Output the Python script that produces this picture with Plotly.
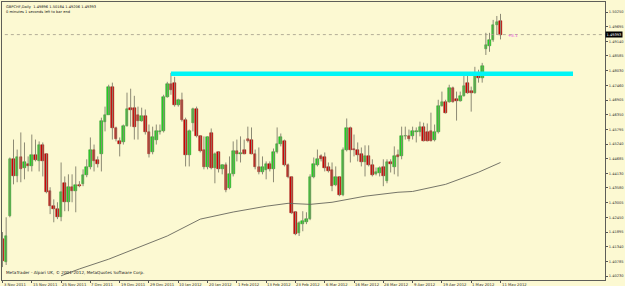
import plotly.graph_objects as go

# ---------------- data ----------------
opens = [1.4163,1.4076,1.4250,1.4469,1.4401,1.4473,1.4432,1.4447,1.4439,1.4481,
         1.4458,1.4519,1.4485,1.4345,1.4288,1.4277,1.4246,1.4375,1.4303,1.4360,
         1.4345,1.4369,1.4371,1.4405,1.4435,1.4503,1.4462,1.4488,1.4609,1.4636,
         1.4742,1.4583,1.4534,1.4530,1.4594,1.4662,1.4662,1.4636,1.4613,1.4632,
         1.4568,1.4492,1.4541,1.4568,1.4572,1.4704,1.4753,1.4757,1.4674,1.4692,
         1.4617,1.4481,1.4602,1.4658,1.4553,1.4500,1.4435,1.4564,1.4432,1.4492,
         1.4428,1.4443,1.4356,1.4409,1.4496,1.4485,1.4500,1.4545,1.4541,1.4488,
         1.4435,1.4416,1.4424,1.4447,1.4428,1.4492,1.4526,1.4534,1.4443,1.4398,
         1.4265,1.4186,1.4220,1.4227,1.4239,1.4398,1.4443,1.4477,1.4473,1.4435,
         1.4424,1.4367,1.4398,1.4330,1.4503,1.4583,1.4507,1.4503,1.4485,1.4454,
         1.4477,1.4443,1.4409,1.4413,1.4435,1.4383,1.4454,1.4435,1.4481,1.4477,
         1.4553,1.4553,1.4553,1.4568,1.4568,1.4590,1.4568,1.4575,1.4541,1.4568,
         1.4670,1.4685,1.4685,1.4738,1.4696,1.4689,1.4707,1.4757,1.4726,1.4719,
         1.4787,1.4776,1.4885,1.4897,1.4919,1.4976,1.4990]
highs = [1.4190,1.4246,1.4473,1.4541,1.4503,1.4568,1.4530,1.4477,1.4560,1.4541,
         1.4534,1.4530,1.4488,1.4360,1.4314,1.4303,1.4454,1.4401,1.4409,1.4409,
         1.4439,1.4383,1.4428,1.4466,1.4549,1.4522,1.4477,1.4624,1.4666,1.4749,
         1.4757,1.4590,1.4549,1.4598,1.4719,1.4734,1.4707,1.4666,1.4662,1.4655,
         1.4598,1.4590,1.4598,1.4598,1.4711,1.4760,1.4794,1.4779,1.4696,1.4719,
         1.4624,1.4579,1.4662,1.4666,1.4556,1.4553,1.4553,1.4583,1.4492,1.4496,
         1.4447,1.4454,1.4477,1.4534,1.4541,1.4553,1.4541,1.4590,1.4587,1.4503,
         1.4511,1.4477,1.4458,1.4458,1.4507,1.4587,1.4564,1.4541,1.4450,1.4401,
         1.4269,1.4231,1.4269,1.4265,1.4409,1.4473,1.4503,1.4485,1.4492,1.4454,
         1.4454,1.4439,1.4401,1.4511,1.4621,1.4590,1.4560,1.4530,1.4511,1.4519,
         1.4519,1.4466,1.4435,1.4439,1.4466,1.4466,1.4466,1.4515,1.4503,1.4590,
         1.4590,1.4579,1.4590,1.4587,1.4609,1.4605,1.4602,1.4643,1.4598,1.4692,
         1.4723,1.4692,1.4749,1.4742,1.4723,1.4723,1.4783,1.4791,1.4742,1.4817,
         1.4806,1.4832,1.4946,1.4946,1.4995,1.5010,1.5018]
lows = [1.4057,1.4065,1.4246,1.4371,1.4379,1.4379,1.4390,1.4420,1.4420,1.4458,
        1.4420,1.4401,1.4337,1.4258,1.4227,1.4239,1.4231,1.4269,1.4269,1.4303,
        1.4265,1.4360,1.4364,1.4398,1.4428,1.4420,1.4435,1.4420,1.4572,1.4636,
        1.4541,1.4534,1.4477,1.4522,1.4590,1.4590,1.4541,1.4541,1.4609,1.4560,
        1.4473,1.4485,1.4522,1.4560,1.4568,1.4700,1.4711,1.4666,1.4666,1.4609,
        1.4439,1.4439,1.4572,1.4549,1.4492,1.4428,1.4428,1.4428,1.4375,1.4416,
        1.4409,1.4341,1.4352,1.4401,1.4458,1.4454,1.4485,1.4530,1.4485,1.4428,
        1.4409,1.4409,1.4390,1.4420,1.4379,1.4488,1.4515,1.4439,1.4394,1.4258,
        1.4178,1.4175,1.4193,1.4220,1.4235,1.4394,1.4439,1.4458,1.4420,1.4416,
        1.4345,1.4364,1.4326,1.4326,1.4496,1.4454,1.4477,1.4458,1.4439,1.4401,
        1.4439,1.4401,1.4405,1.4401,1.4364,1.4375,1.4416,1.4409,1.4401,1.4466,
        1.4541,1.4534,1.4541,1.4530,1.4553,1.4534,1.4534,1.4534,1.4534,1.4564,
        1.4666,1.4640,1.4681,1.4681,1.4613,1.4685,1.4704,1.4715,1.4647,1.4715,
        1.4757,1.4757,1.4862,1.4874,1.4912,1.4938,1.4921]
closes = [1.4080,1.4175,1.4469,1.4401,1.4473,1.4428,1.4454,1.4439,1.4481,1.4462,
          1.4519,1.4458,1.4341,1.4288,1.4277,1.4246,1.4341,1.4303,1.4360,1.4345,
          1.4367,1.4364,1.4405,1.4435,1.4503,1.4458,1.4450,1.4613,1.4636,1.4742,
          1.4583,1.4545,1.4526,1.4594,1.4658,1.4655,1.4587,1.4613,1.4632,1.4568,
          1.4488,1.4549,1.4572,1.4575,1.4704,1.4753,1.4730,1.4674,1.4692,1.4617,
          1.4481,1.4575,1.4658,1.4553,1.4496,1.4435,1.4549,1.4432,1.4488,1.4428,
          1.4443,1.4348,1.4409,1.4496,1.4485,1.4489,1.4488,1.4537,1.4488,1.4435,
          1.4416,1.4435,1.4447,1.4428,1.4492,1.4526,1.4549,1.4443,1.4398,1.4261,
          1.4182,1.4224,1.4231,1.4239,1.4398,1.4447,1.4469,1.4469,1.4432,1.4420,
          1.4364,1.4398,1.4330,1.4503,1.4583,1.4500,1.4500,1.4481,1.4454,1.4477,
          1.4443,1.4405,1.4416,1.4432,1.4401,1.4454,1.4447,1.4477,1.4473,1.4553,
          1.4556,1.4545,1.4572,1.4572,1.4590,1.4537,1.4537,1.4537,1.4568,1.4670,
          1.4685,1.4643,1.4738,1.4685,1.4689,1.4707,1.4745,1.4719,1.4719,1.4787,
          1.4776,1.4821,1.4900,1.4919,1.4976,1.4987,1.4939]

ma_bar = [16, 21, 29, 36, 45, 54, 63, 72, 78, 84, 90, 99, 108, 112, 121, 130, 136]
ma_val = [1.4024, 1.4050, 1.4087, 1.4125, 1.4175, 1.4239, 1.4266, 1.4288, 1.4299,
          1.4295, 1.4303, 1.4326, 1.4341, 1.4344, 1.4371, 1.4417, 1.4454]

# date labels (every 8 bars)
date_bar = [0, 8, 16, 24, 32, 40, 48, 56, 64, 72, 80, 88, 96, 104, 112, 120, 128, 136]
date_text = ["3 Nov 2011", "15 Nov 2011", "25 Nov 2011", "7 Dec 2011", "19 Dec 2011",
             "29 Dec 2011", "10 Jan 2012", "20 Jan 2012", "1 Feb 2012", "13 Feb 2012",
             "23 Feb 2012", "6 Mar 2012", "16 Mar 2012", "28 Mar 2012", "9 Apr 2012",
             "19 Apr 2012", "1 May 2012", "11 May 2012"]

# price scale labels
price_ticks = [1.50250, 1.49695, 1.49140, 1.48585, 1.48030, 1.47460, 1.46905, 1.46350,
               1.45795, 1.45240, 1.44685, 1.44130, 1.43580, 1.43005, 1.42450, 1.41895,
               1.41340, 1.40785, 1.40230]

# drawn objects
level_price = 1.4791      # cyan horizontal level
level_start, level_end = 46, 155.8
bid_price = 1.49393
header_ohlc = "GBPCHF,Daily  1.49896 1.50184 1.49206 1.49393"

# ---------------- figure ----------------
BG = "#FCF9D2"
n = len(opens)
idx = list(range(n))

wx, wy = [], []
for i in idx:
    wx += [i, i, None]
    wy += [highs[i], lows[i], None]

up = [c >= o for o, c in zip(opens, closes)]
body_base = [min(o, c) for o, c in zip(opens, closes)]
body_len = [abs(c - o) for o, c in zip(opens, closes)]
fill = ["#22D822" if u else "#D40000" for u in up]
edge = ["#1E8C1E" if u else "#8A0000" for u in up]

fig = go.Figure()
fig.add_trace(go.Scatter(x=[-1, 200], y=[bid_price, bid_price], mode="lines",
                         line=dict(color="#B3AE98", width=1, dash="dot"),
                         hoverinfo="skip", showlegend=False))
fig.add_trace(go.Scatter(x=wx, y=wy, mode="lines", line=dict(color="#8C8A74", width=1),
                         hoverinfo="skip", showlegend=False))
fig.add_trace(go.Bar(x=idx, y=body_len, base=body_base, width=0.72,
                     marker=dict(color=fill, line=dict(color=edge, width=0.5)),
                     showlegend=False))
fig.add_trace(go.Scatter(x=ma_bar, y=ma_val, mode="lines",
                         line=dict(color="#66665C", width=0.9), showlegend=False))
fig.add_trace(go.Scatter(x=[level_start, level_end], y=[level_price, level_price], mode="lines",
                         line=dict(color="#00F5F5", width=4.5), showlegend=False))

ann = []
for b, t in zip(date_bar, date_text):
    ann.append(dict(x=b, y=0, xref="x", yref="paper", text=t, showarrow=False,
                    xanchor="left", yanchor="top", xshift=-1, yshift=0,
                    font=dict(size=3.8, color="#333333", family="DejaVu Sans")))
ann.append(dict(x=0.003, y=0.995, xref="paper", yref="paper", text=header_ohlc,
                showarrow=False, xanchor="left", yanchor="top",
                font=dict(size=3.6, color="#111111", family="DejaVu Sans")))
ann.append(dict(x=0.003, y=0.978, xref="paper", yref="paper",
                text="0 minutes 1 seconds left to bar end",
                showarrow=False, xanchor="left", yanchor="top",
                font=dict(size=3.6, color="#111111", family="DejaVu Sans")))
ann.append(dict(x=0.003, y=0.012, xref="paper", yref="paper",
                text="MetaTrader - Alpari UK, \u00a9 2001-2012, MetaQuotes Software Corp.",
                showarrow=False, xanchor="left", yanchor="bottom",
                font=dict(size=4.2, color="#222222", family="DejaVu Sans")))
ann.append(dict(x=137.5, y=bid_price - 0.0004, xref="x", yref="y", text="+8.1",
                showarrow=False, xanchor="left", yanchor="middle",
                font=dict(size=4, color="#F060E0", family="DejaVu Sans")))
ann.append(dict(x=1.0, y=bid_price, xref="paper", yref="y", text=f"{bid_price:.5f}",
                showarrow=False, xanchor="left", yanchor="middle", xshift=0,
                bgcolor="#000000", borderpad=0.5,
                font=dict(size=3.6, color="#FFFFFF", family="DejaVu Sans")))

fig.update_layout(
    width=625, height=286,
    margin=dict(l=1, r=18, t=2, b=6),
    paper_bgcolor=BG, plot_bgcolor=BG,
    bargap=0, showlegend=False,
    annotations=ann,
    xaxis=dict(range=[-0.14, 164.54], tickvals=date_bar, ticks="outside", ticklen=2,
               tickcolor="#555555", showticklabels=False, showgrid=False,
               zeroline=False, showline=True, mirror=True,
               linecolor="#5E5E58", linewidth=1),
    yaxis=dict(range=[1.4008, 1.5063], side="right", tickvals=price_ticks,
               ticktext=[f"{v:.5f}" for v in price_ticks], ticks="outside",
               ticklen=2, tickcolor="#555555",
               tickfont=dict(size=3.6, color="#333333", family="DejaVu Sans"),
               showgrid=False, zeroline=False, showline=True, mirror=True,
               linecolor="#5E5E58", linewidth=1),
)
fig.write_html("out.html")
